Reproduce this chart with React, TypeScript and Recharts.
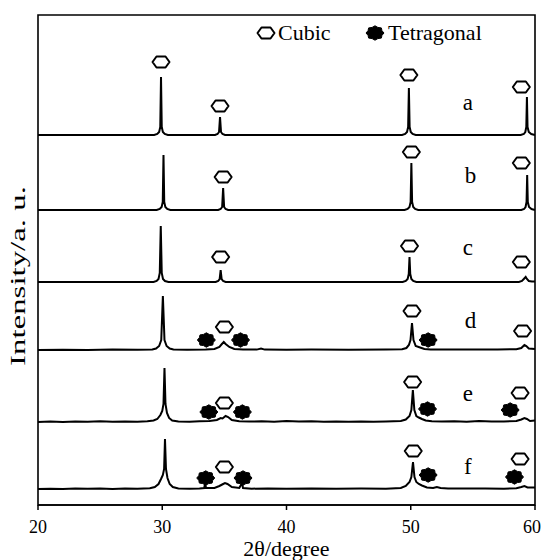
import React from 'react';
import { ComposedChart, Line, Scatter, XAxis, YAxis, ReferenceArea } from 'recharts';

type Pt = [number, number];

const xTicks = [20, 30, 40, 50, 60];
const sampleLabels = ['a', 'b', 'c', 'd', 'e', 'f'];
const traceOffsets = [370, 295, 223, 155, 83, 16];
const legendNames = ['Cubic', 'Tetragonal'];
const yTitle = 'Intensity/a. u.';
const xTitle = '2θ/degree';

const traceA: Pt[] = [
  [20, 0], [29.35, 0], [29.6, 1], [29.75, 3], [29.84, 8], [29.9, 58], [29.96, 8], [30.05, 3], [30.2, 1], [30.45, 0],
  [34.25, 0], [34.45, 1], [34.57, 3], [34.65, 18], [34.73, 3], [34.85, 1], [35.05, 0],
  [49.3, 0], [49.55, 1], [49.7, 3], [49.79, 8], [49.85, 47], [49.91, 8], [50.0, 3], [50.15, 1], [50.4, 0],
  [58.85, 0], [59.1, 1], [59.22, 3], [59.3, 8], [59.35, 38], [59.4, 8], [59.5, 3], [59.7, 1], [60, 0],
];
const traceB: Pt[] = [
  [20, 0], [29.55, 0], [29.8, 1], [29.95, 3], [30.04, 8], [30.1, 55], [30.16, 8], [30.25, 3], [30.4, 1], [30.65, 0],
  [34.5, 0], [34.7, 1], [34.82, 3], [34.9, 22], [34.98, 3], [35.1, 1], [35.3, 0],
  [49.5, 0], [49.75, 1], [49.9, 3], [49.99, 8], [50.05, 47], [50.11, 8], [50.2, 3], [50.35, 1], [50.6, 0],
  [58.9, 0], [59.12, 1], [59.24, 3], [59.32, 8], [59.37, 35], [59.42, 8], [59.52, 3], [59.72, 1], [60, 0],
];
const traceC: Pt[] = [
  [20, 0], [29.3, 0], [29.55, 1], [29.7, 3], [29.8, 9], [29.88, 56], [29.96, 9], [30.06, 3], [30.22, 1], [30.5, 0],
  [34.3, 0], [34.5, 1], [34.62, 3], [34.7, 12], [34.78, 3], [34.9, 1], [35.1, 0],
  [49.35, 0], [49.6, 1], [49.75, 3], [49.84, 8], [49.9, 25], [49.96, 8], [50.05, 3], [50.2, 1], [50.45, 0],
  [58.7, 0], [58.95, 1], [59.1, 3], [59.25, 5], [59.35, 3], [59.5, 1], [59.75, 0.5], [60, 0.5],
];
const traceD: Pt[] = [
  [20, 0], [22, 0.3], [24, 0], [26, 0.4], [28, 0.2], [29.2, 0.5], [29.5, 1.5], [29.75, 4], [29.92, 10], [30.05, 54],
  [30.18, 10], [30.35, 4], [30.6, 1.5], [30.9, 0.5], [32, 0.3], [33.5, 0.5], [34.2, 1], [34.6, 3], [34.8, 6], [34.95, 8],
  [35.1, 6], [35.4, 3], [35.8, 1], [36.5, 0.5], [37.6, 0.4], [37.95, 1.5], [38.25, 0.4], [40, 0.3], [42, 0.5], [45, 0.3],
  [48, 0.5], [49.3, 0.8], [49.65, 2], [49.85, 5], [49.98, 10], [50.1, 27], [50.22, 10], [50.4, 4], [50.75, 2.5], [51.1, 1],
  [51.6, 0.5], [54, 0.4], [57, 0.5], [58.5, 0.8], [58.9, 2], [59.15, 5], [59.3, 4], [59.5, 1.5], [60, 1],
];
const traceE: Pt[] = [
  [20, 0], [21, 0.5], [22, 0], [23, 0.6], [24, 0.2], [25, 0.7], [26, 0.3], [27, 0.6], [28, 0.3], [28.8, 0.8],
  [29.3, 1.5], [29.6, 3], [29.85, 7], [30.0, 11], [30.1, 18], [30.18, 54], [30.26, 18], [30.38, 9], [30.55, 4], [30.8, 1.5],
  [31.3, 0.6], [32.2, 0.3], [33, 0.8], [33.8, 1], [34.4, 2], [34.7, 4], [34.85, 3.5], [35.1, 6], [35.3, 5], [35.6, 2],
  [36.2, 0.8], [37, 0.4], [38, 0.8], [39, 0.3], [40, 0.9], [41, 0.4], [42, 0.7], [43, 0.2], [44, 0.6], [45, 0.3],
  [46, 0.5], [47, 0.2], [48, 0.6], [49.2, 1], [49.6, 2.5], [49.9, 6], [50.05, 12], [50.17, 32], [50.29, 12], [50.45, 6],
  [50.65, 4.5], [50.9, 3], [51.2, 1.5], [51.7, 0.8], [52.5, 0.5], [53.5, 0.8], [54.5, 0.3], [55.5, 0.9], [56.5, 0.4], [57.5, 0.6],
  [58.5, 1], [58.9, 2.5], [59.15, 4], [59.35, 3], [59.6, 1], [60, 1.5],
];
const traceF: Pt[] = [
  [20, 0], [21, 0.3], [22, 0], [23, 0.5], [24, 0.2], [25, 0.4], [26, 0], [27, 0.4], [28, 0.2], [29, 0.8],
  [29.4, 2], [29.7, 5], [29.9, 10], [30.05, 14], [30.15, 20], [30.22, 50], [30.3, 20], [30.42, 11], [30.6, 5], [30.85, 2],
  [31.3, 0.6], [32.2, 0.2], [33, 0.5], [33.38, 1], [33.45, 6], [33.52, 1], [34.2, 1], [34.6, 3], [34.9, 5], [35.05, 6],
  [35.25, 5], [35.6, 2], [36.2, 1], [36.42, 6], [36.5, 1], [37.2, 0.3], [38.5, 0.6], [40, 0.2], [42, 0.5], [44, 0.2],
  [46, 0.4], [48, 0.3], [49.2, 1], [49.6, 3], [49.9, 7], [50.05, 12], [50.18, 27], [50.3, 12], [50.45, 7], [50.65, 5],
  [50.9, 3.5], [51.3, 1.5], [51.8, 1], [52.1, 2], [52.4, 1], [53, 0.5], [54.5, 0.4], [56, 0.5], [57.5, 0.3], [58.5, 0.8],
  [58.9, 2], [59.15, 3], [59.4, 1.5], [60, 1.5],
];
const traces: Pt[][] = [traceA, traceB, traceC, traceD, traceE, traceF];

const cubicMarks: Pt[] = [
  [29.9, 443], [34.65, 399], [49.85, 430], [58.9, 418],
  [34.9, 328], [50.05, 353], [58.9, 342],
  [34.7, 248], [49.9, 259], [58.9, 243],
  [35.0, 178], [50.1, 194], [59.0, 174],
  [35.0, 102], [50.15, 123], [58.8, 112],
  [35.0, 38], [50.2, 54], [58.8, 46],
];
const tetraMarks: Pt[] = [
  [33.55, 165], [36.3, 165], [51.4, 165],
  [33.75, 93], [36.45, 93], [51.35, 96], [58.0, 95],
  [33.5, 27], [36.5, 27], [51.4, 30], [58.35, 28],
];
const labelX = [54.6, 54.8, 54.6, 54.8, 54.6, 54.6];
const labelY = [403, 330, 258, 185, 112, 39];

const FONT = '"Liberation Serif", "Times New Roman", serif';

const cubicPath = (cx: number, cy: number) =>
  `M${cx - 8.5},${cy} L${cx - 4.5},${cy - 5.5} L${cx + 4.5},${cy - 5.5} L${cx + 8.5},${cy} L${cx + 4.5},${cy + 5.5} L${cx - 4.5},${cy + 5.5} Z`;

const tetraPath = (cx: number, cy: number) => {
  const pts: string[] = [];
  for (let i = 0; i < 16; i++) {
    const a = (i / 16) * Math.PI * 2;
    const r = i % 2 === 0 ? 1 : 0.84;
    pts.push(`${(cx + Math.cos(a) * 9 * r).toFixed(2)},${(cy + Math.sin(a) * 7.2 * r).toFixed(2)}`);
  }
  return `M${pts.join(' L')} Z`;
};

const CubicShape = (p: any) => (
  <path d={cubicPath(p.cx, p.cy)} fill="#fff" stroke="#000" strokeWidth={2} strokeLinejoin="round" />
);
const TetraShape = (p: any) => (
  <path d={tetraPath(p.cx, p.cy)} fill="#000" stroke="#000" strokeWidth={1} strokeLinejoin="round" />
);
const LabelShape = (p: any) => (
  <text x={p.cx} y={p.cy} dy="0.35em" textAnchor="middle" fontFamily={FONT} fontSize={23} fill="#000">
    {p.payload.label}
  </text>
);

const YTitle = (props: any) => {
  const vb = props.viewBox || { x: 0, y: 15, width: 38, height: 490 };
  const cx = 18;
  const cy = vb.y + vb.height / 2 + 16;
  return (
    <text
      x={cx}
      y={cy}
      transform={`rotate(-90 ${cx} ${cy})`}
      textAnchor="middle"
      dominantBaseline="central"
      fontFamily={FONT}
      fontSize={21}
      fill="#000"
      textLength={180}
      lengthAdjust="spacingAndGlyphs"
    >
      {yTitle}
    </text>
  );
};

export default function App() {
  const lineData = traces.map((t, i) => t.map(([x, y]) => ({ x, y: y + traceOffsets[i] })));
  const cubicData = cubicMarks.map(([x, y]) => ({ x, y }));
  const tetraData = tetraMarks.map(([x, y]) => ({ x, y }));
  const labelData = sampleLabels.map((label, i) => ({ x: labelX[i], y: labelY[i], label }));

  return (
    <div style={{ position: 'absolute', left: 0, top: 0, width: 541, height: 560, background: '#fff' }}>
      <ComposedChart width={541} height={560} margin={{ top: 15, right: 6, bottom: 0, left: 0 }}>
        <XAxis
          type="number"
          dataKey="x"
          domain={[20, 60]}
          ticks={xTicks}
          allowDataOverflow
          height={55}
          stroke="#000"
          strokeWidth={1.5}
          tickSize={5}
          tickMargin={10}
          tick={{ fill: '#000', fontSize: 18, fontFamily: FONT }}
          label={{ value: xTitle, position: 'insideBottom', offset: 4, style: { fill: '#000', fontSize: 22, fontFamily: FONT } }}
        />
        <YAxis
          type="number"
          dataKey="y"
          domain={[0, 490]}
          width={38}
          tick={false}
          tickLine={false}
          axisLine={false}
          label={<YTitle />}
        />
        <ReferenceArea x1={20} x2={60} y1={0} y2={490} fill="none" stroke="#000" strokeWidth={1.6} ifOverflow="visible" />
        {lineData.map((d, i) => (
          <Line key={i} data={d} dataKey="y" type="linear" stroke="#000" strokeWidth={2} dot={false} isAnimationActive={false} />
        ))}
        <Scatter data={cubicData} shape={CubicShape} isAnimationActive={false} />
        <Scatter data={tetraData} shape={TetraShape} isAnimationActive={false} />
        <Scatter data={labelData} shape={LabelShape} isAnimationActive={false} />
      </ComposedChart>
      <svg width={541} height={60} style={{ position: 'absolute', left: 0, top: 0, pointerEvents: 'none' }}>
        <path d={cubicPath(266, 33)} fill="#fff" stroke="#000" strokeWidth={2} strokeLinejoin="round" />
        <text x={278} y={40} fontFamily={FONT} fontSize={22} fill="#000">{legendNames[0]}</text>
        <path d={tetraPath(375, 33)} fill="#000" stroke="#000" strokeWidth={1} />
        <text x={388} y={40} fontFamily={FONT} fontSize={22} fill="#000">{legendNames[1]}</text>
      </svg>
    </div>
  );
}
